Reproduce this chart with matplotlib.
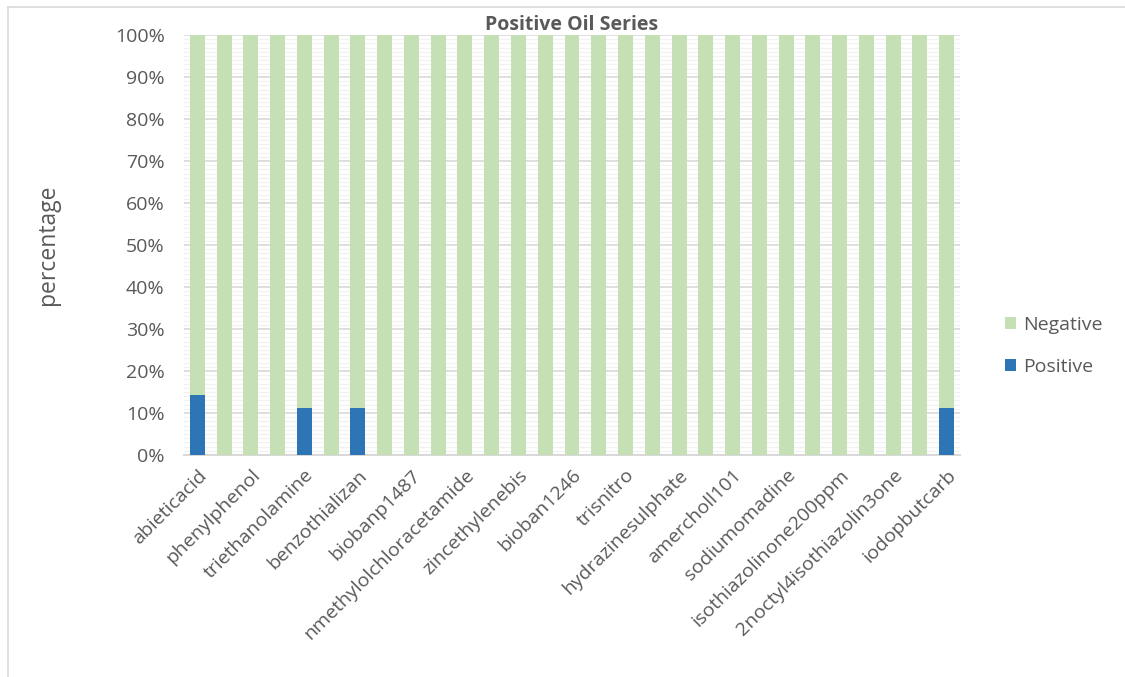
import matplotlib.pyplot as plt
from matplotlib.lines import Line2D
from matplotlib.ticker import MultipleLocator, PercentFormatter

# Every other category name is printed on the axis
shown_labels = [
    "abieticacid", "phenylphenol", "triethanolamine", "benzothializan",
    "biobanp1487", "nmethylolchloracetamide", "zincethylenebis",
    "bioban1246", "trisnitro", "hydrazinesulphate", "amercholl101",
    "sodiumomadine", "isothiazolinone200ppm", "2noctyl4isothiazolin3one",
    "iodopbutcarb",
]

# Share of positive / negative results per biocide (29 bars)
positive = [14.3, 0, 0, 0, 11.1, 0, 11.1, 0, 0, 0,
            0, 0, 0, 0, 0, 0, 0, 0, 0, 0,
            0, 0, 0, 0, 0, 0, 0, 0, 11.1]
negative = [85.7, 100, 100, 100, 88.9, 100, 88.9, 100, 100, 100,
            100, 100, 100, 100, 100, 100, 100, 100, 100, 100,
            100, 100, 100, 100, 100, 100, 100, 100, 88.9]

text_color = "#595959"
plt.rcParams["font.family"] = ["Open Sans", "DejaVu Sans"]

fig = plt.figure(figsize=(11.25, 6.77), dpi=100)
ax = fig.add_axes([0.1636, 0.3279, 0.6897, 0.6204])

x = list(range(len(positive)))
ax.bar(x, positive, width=0.56, color="#2e75b6", label="Positive", zorder=3)
ax.bar(x, negative, width=0.56, bottom=positive, color="#c5e0b4",
       label="Negative", zorder=3)

ax.set_xlim(-0.5, len(x) - 0.5)
ax.set_ylim(0, 100)
ax.yaxis.set_major_locator(MultipleLocator(10))
ax.yaxis.set_minor_locator(MultipleLocator(1))
ax.yaxis.set_major_formatter(PercentFormatter(decimals=0))
ax.grid(axis="y", which="major", color="#d9d9d9", linewidth=1.2, zorder=0)
ax.grid(axis="y", which="minor", color="#f2f2f2", linewidth=0.9, zorder=0)

ax.set_xticks(x[::2])
ax.set_xticklabels(shown_labels, rotation=45, ha="right",
                   rotation_mode="anchor", fontsize=14, color=text_color)
ax.tick_params(axis="x", length=0, pad=8)
ax.tick_params(axis="y", which="both", length=0, labelsize=14,
               labelcolor=text_color, pad=14)

for side in ["top", "right", "left"]:
    ax.spines[side].set_visible(False)
ax.spines["bottom"].set_color("#d9d9d9")
ax.spines["bottom"].set_linewidth(1.5)

ax.set_ylabel("percentage", fontsize=16.5, color=text_color)
ax.yaxis.set_label_coords(-0.16, 0.5)
ax.set_title("Positive Oil Series", fontsize=14, fontweight="bold",
             color=text_color, pad=3)

handles, labels = ax.get_legend_handles_labels()
ax.legend(handles[::-1], labels[::-1], loc="center left",
          bbox_to_anchor=(1.035, 0.26), frameon=False, fontsize=14,
          labelcolor=text_color, handlelength=0.6, handleheight=0.6,
          handletextpad=0.35, labelspacing=1.25)

# Chart frame
fig.add_artist(Line2D([0.007, 1.0], [0.99, 0.99], color="#d9d9d9", lw=1.2))
fig.add_artist(Line2D([0.007, 0.007], [0.0, 0.99], color="#d9d9d9", lw=1.2))

fig.savefig("out.png", dpi=100)
